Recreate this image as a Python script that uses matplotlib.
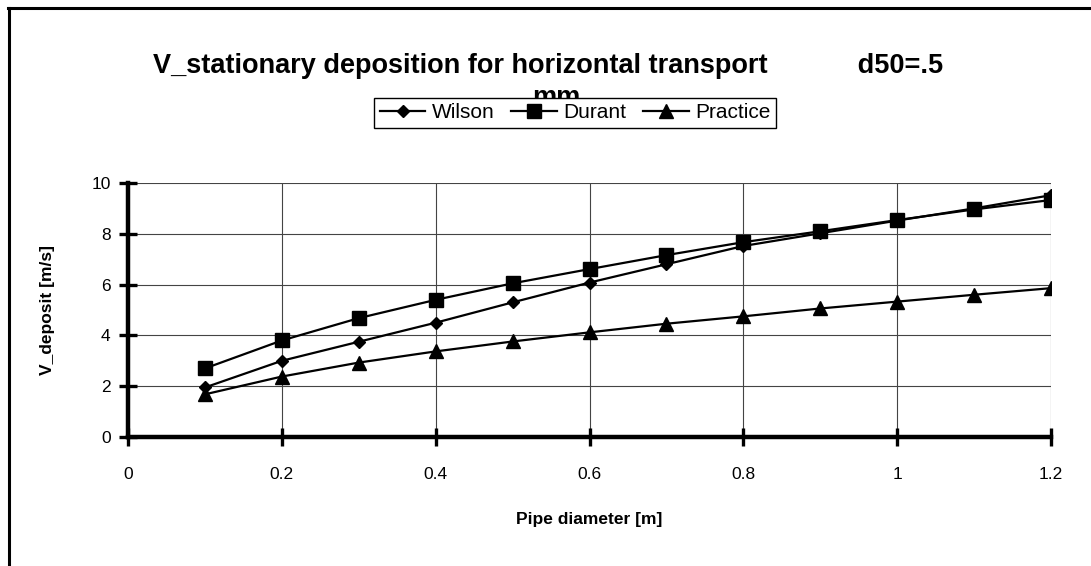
import matplotlib
matplotlib.use("Agg")
import matplotlib.pyplot as plt
from matplotlib.lines import Line2D

plt.rcParams['font.family'] = ['Liberation Sans', 'DejaVu Sans']

diameter = [0.1, 0.2, 0.3, 0.4, 0.5, 0.6, 0.7, 0.8, 0.9, 1.0, 1.1, 1.2]
wilson = [1.95, 3.0, 3.75, 4.5, 5.3, 6.08, 6.8, 7.52, 8.02, 8.52, 9.0, 9.52]
durant = [2.7, 3.8, 4.68, 5.4, 6.05, 6.61, 7.16, 7.67, 8.1, 8.54, 8.96, 9.33]
practice = [1.68, 2.38, 2.93, 3.37, 3.76, 4.12, 4.46, 4.75, 5.06, 5.33, 5.6, 5.86]

xticks = [0, 0.2, 0.4, 0.6, 0.8, 1.0, 1.2]
xticklabels = ['0', '0.2', '0.4', '0.6', '0.8', '1', '1.2']
yticks = [0, 2, 4, 6, 8, 10]

W, H = 1091, 566
fig = plt.figure(figsize=(W / 100, H / 100), dpi=100)
ax = fig.add_axes([128 / W, 1 - 437 / H, (1051 - 128) / W, (437 - 183) / H])

# chart-area border (only top and left are visible)
fig.add_artist(Line2D([8.5 / W, 8.5 / W], [0, 1 - 8 / H], color='black', lw=2.2,
                      transform=fig.transFigure))
fig.add_artist(Line2D([7.5 / W, 1], [1 - 8 / H, 1 - 8 / H], color='black', lw=2.2,
                      transform=fig.transFigure))

ax.plot(diameter, wilson, color='black', lw=1.6, marker='D', ms=6.5, label='Wilson')
ax.plot(diameter, durant, color='black', lw=1.6, marker='s', ms=9.5, label='Durant')
ax.plot(diameter, practice, color='black', lw=1.6, marker='^', ms=9.5, label='Practice')

ax.set_xlim(0, 1.2)
ax.set_ylim(0, 10)
ax.set_xticks(xticks)
ax.set_xticklabels(xticklabels)
ax.set_yticks(yticks)
ax.grid(True, color='#444444', lw=0.8)
ax.set_axisbelow(True)

for side in ['top', 'right']:
    ax.spines[side].set_visible(False)
for side in ['left', 'bottom']:
    ax.spines[side].set_linewidth(3.2)
ax.tick_params(axis='both', direction='inout', length=13, width=2.4, labelsize=12.5)
ax.tick_params(axis='x', pad=15)
ax.tick_params(axis='y', pad=6)

ax.set_xlabel('Pipe diameter [m]', fontsize=12.5, fontweight='bold', labelpad=22)
ax.set_ylabel('V_deposit [m/s]', fontsize=12.5, fontweight='bold', labelpad=26)

fig.text(548 / W, 1 - 73 / H,
         'V_stationary deposition for horizontal transport            d50=.5',
         ha='center', va='baseline', fontsize=19.5, fontweight='bold', zorder=1)
fig.text(556 / W, 1 - 105 / H, 'mm', ha='center', va='baseline',
         fontsize=19.5, fontweight='bold', zorder=1)

leg = fig.legend(loc='center', bbox_to_anchor=(575 / W, 1 - 113 / H), ncol=3,
                 fontsize=15, frameon=True, fancybox=False, framealpha=1,
                 edgecolor='black', handlelength=2.2, handletextpad=0.3,
                 columnspacing=0.8, borderpad=0.25)
leg.get_frame().set_linewidth(1.0)
leg.set_zorder(10)

fig.savefig('out.png', dpi=100)
